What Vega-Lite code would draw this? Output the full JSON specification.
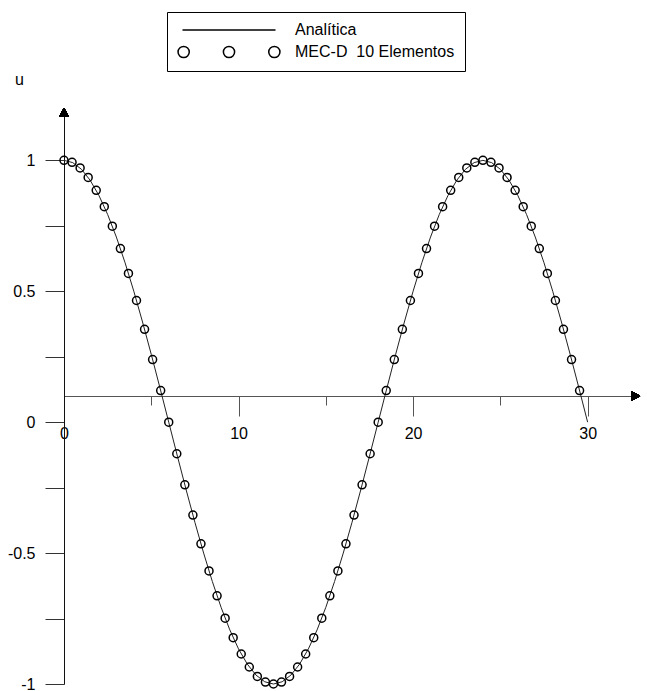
{
  "$schema": "https://vega.github.io/schema/vega-lite/v6.json",
  "width": 576,
  "height": 576,
  "autosize": {"type": "none"},
  "padding": {"left": 64, "top": 108, "right": 7, "bottom": 7},
  "background": "white",
  "config": {"view": {"stroke": null}, "font": "Liberation Sans"},
  "data": {
    "values": [
      {"serie": "Analítica", "t": 0, "u": 1},
      {"serie": "Analítica", "t": 0.5, "u": 0.991445},
      {"serie": "Analítica", "t": 1, "u": 0.965926},
      {"serie": "Analítica", "t": 1.5, "u": 0.92388},
      {"serie": "Analítica", "t": 2, "u": 0.866025},
      {"serie": "Analítica", "t": 2.5, "u": 0.793353},
      {"serie": "Analítica", "t": 3, "u": 0.707107},
      {"serie": "Analítica", "t": 3.5, "u": 0.608761},
      {"serie": "Analítica", "t": 4, "u": 0.5},
      {"serie": "Analítica", "t": 4.5, "u": 0.382683},
      {"serie": "Analítica", "t": 5, "u": 0.258819},
      {"serie": "Analítica", "t": 5.5, "u": 0.130526},
      {"serie": "Analítica", "t": 6, "u": 0},
      {"serie": "Analítica", "t": 6.5, "u": -0.130526},
      {"serie": "Analítica", "t": 7, "u": -0.258819},
      {"serie": "Analítica", "t": 7.5, "u": -0.382683},
      {"serie": "Analítica", "t": 8, "u": -0.5},
      {"serie": "Analítica", "t": 8.5, "u": -0.608761},
      {"serie": "Analítica", "t": 9, "u": -0.707107},
      {"serie": "Analítica", "t": 9.5, "u": -0.793353},
      {"serie": "Analítica", "t": 10, "u": -0.866025},
      {"serie": "Analítica", "t": 10.5, "u": -0.92388},
      {"serie": "Analítica", "t": 11, "u": -0.965926},
      {"serie": "Analítica", "t": 11.5, "u": -0.991445},
      {"serie": "Analítica", "t": 12, "u": -1},
      {"serie": "Analítica", "t": 12.5, "u": -0.991445},
      {"serie": "Analítica", "t": 13, "u": -0.965926},
      {"serie": "Analítica", "t": 13.5, "u": -0.92388},
      {"serie": "Analítica", "t": 14, "u": -0.866025},
      {"serie": "Analítica", "t": 14.5, "u": -0.793353},
      {"serie": "Analítica", "t": 15, "u": -0.707107},
      {"serie": "Analítica", "t": 15.5, "u": -0.608761},
      {"serie": "Analítica", "t": 16, "u": -0.5},
      {"serie": "Analítica", "t": 16.5, "u": -0.382683},
      {"serie": "Analítica", "t": 17, "u": -0.258819},
      {"serie": "Analítica", "t": 17.5, "u": -0.130526},
      {"serie": "Analítica", "t": 18, "u": 0},
      {"serie": "Analítica", "t": 18.5, "u": 0.130526},
      {"serie": "Analítica", "t": 19, "u": 0.258819},
      {"serie": "Analítica", "t": 19.5, "u": 0.382683},
      {"serie": "Analítica", "t": 20, "u": 0.5},
      {"serie": "Analítica", "t": 20.5, "u": 0.608761},
      {"serie": "Analítica", "t": 21, "u": 0.707107},
      {"serie": "Analítica", "t": 21.5, "u": 0.793353},
      {"serie": "Analítica", "t": 22, "u": 0.866025},
      {"serie": "Analítica", "t": 22.5, "u": 0.92388},
      {"serie": "Analítica", "t": 23, "u": 0.965926},
      {"serie": "Analítica", "t": 23.5, "u": 0.991445},
      {"serie": "Analítica", "t": 24, "u": 1},
      {"serie": "Analítica", "t": 24.5, "u": 0.991445},
      {"serie": "Analítica", "t": 25, "u": 0.965926},
      {"serie": "Analítica", "t": 25.5, "u": 0.92388},
      {"serie": "Analítica", "t": 26, "u": 0.866025},
      {"serie": "Analítica", "t": 26.5, "u": 0.793353},
      {"serie": "Analítica", "t": 27, "u": 0.707107},
      {"serie": "Analítica", "t": 27.5, "u": 0.608761},
      {"serie": "Analítica", "t": 28, "u": 0.5},
      {"serie": "Analítica", "t": 28.5, "u": 0.382683},
      {"serie": "Analítica", "t": 29, "u": 0.258819},
      {"serie": "Analítica", "t": 29.5, "u": 0.130526},
      {"serie": "Analítica", "t": 30, "u": 0},
      {"serie": "MEC-D  10 Elementos", "t": 0, "u": 1},
      {"serie": "MEC-D  10 Elementos", "t": 0.4615, "u": 0.992709},
      {"serie": "MEC-D  10 Elementos", "t": 0.9231, "u": 0.970942},
      {"serie": "MEC-D  10 Elementos", "t": 1.3846, "u": 0.935016},
      {"serie": "MEC-D  10 Elementos", "t": 1.8462, "u": 0.885456},
      {"serie": "MEC-D  10 Elementos", "t": 2.3077, "u": 0.822984},
      {"serie": "MEC-D  10 Elementos", "t": 2.7692, "u": 0.748511},
      {"serie": "MEC-D  10 Elementos", "t": 3.2308, "u": 0.663123},
      {"serie": "MEC-D  10 Elementos", "t": 3.6923, "u": 0.568065},
      {"serie": "MEC-D  10 Elementos", "t": 4.1538, "u": 0.464723},
      {"serie": "MEC-D  10 Elementos", "t": 4.6154, "u": 0.354605},
      {"serie": "MEC-D  10 Elementos", "t": 5.0769, "u": 0.239316},
      {"serie": "MEC-D  10 Elementos", "t": 5.5385, "u": 0.120537},
      {"serie": "MEC-D  10 Elementos", "t": 6, "u": 0},
      {"serie": "MEC-D  10 Elementos", "t": 6.4615, "u": -0.120537},
      {"serie": "MEC-D  10 Elementos", "t": 6.9231, "u": -0.239316},
      {"serie": "MEC-D  10 Elementos", "t": 7.3846, "u": -0.354605},
      {"serie": "MEC-D  10 Elementos", "t": 7.8462, "u": -0.464723},
      {"serie": "MEC-D  10 Elementos", "t": 8.3077, "u": -0.568065},
      {"serie": "MEC-D  10 Elementos", "t": 8.7692, "u": -0.663123},
      {"serie": "MEC-D  10 Elementos", "t": 9.2308, "u": -0.748511},
      {"serie": "MEC-D  10 Elementos", "t": 9.6923, "u": -0.822984},
      {"serie": "MEC-D  10 Elementos", "t": 10.1538, "u": -0.885456},
      {"serie": "MEC-D  10 Elementos", "t": 10.6154, "u": -0.935016},
      {"serie": "MEC-D  10 Elementos", "t": 11.0769, "u": -0.970942},
      {"serie": "MEC-D  10 Elementos", "t": 11.5385, "u": -0.992709},
      {"serie": "MEC-D  10 Elementos", "t": 12, "u": -1},
      {"serie": "MEC-D  10 Elementos", "t": 12.4615, "u": -0.992709},
      {"serie": "MEC-D  10 Elementos", "t": 12.9231, "u": -0.970942},
      {"serie": "MEC-D  10 Elementos", "t": 13.3846, "u": -0.935016},
      {"serie": "MEC-D  10 Elementos", "t": 13.8462, "u": -0.885456},
      {"serie": "MEC-D  10 Elementos", "t": 14.3077, "u": -0.822984},
      {"serie": "MEC-D  10 Elementos", "t": 14.7692, "u": -0.748511},
      {"serie": "MEC-D  10 Elementos", "t": 15.2308, "u": -0.663123},
      {"serie": "MEC-D  10 Elementos", "t": 15.6923, "u": -0.568065},
      {"serie": "MEC-D  10 Elementos", "t": 16.1538, "u": -0.464723},
      {"serie": "MEC-D  10 Elementos", "t": 16.6154, "u": -0.354605},
      {"serie": "MEC-D  10 Elementos", "t": 17.0769, "u": -0.239316},
      {"serie": "MEC-D  10 Elementos", "t": 17.5385, "u": -0.120537},
      {"serie": "MEC-D  10 Elementos", "t": 18, "u": 0},
      {"serie": "MEC-D  10 Elementos", "t": 18.4615, "u": 0.120537},
      {"serie": "MEC-D  10 Elementos", "t": 18.9231, "u": 0.239316},
      {"serie": "MEC-D  10 Elementos", "t": 19.3846, "u": 0.354605},
      {"serie": "MEC-D  10 Elementos", "t": 19.8462, "u": 0.464723},
      {"serie": "MEC-D  10 Elementos", "t": 20.3077, "u": 0.568065},
      {"serie": "MEC-D  10 Elementos", "t": 20.7692, "u": 0.663123},
      {"serie": "MEC-D  10 Elementos", "t": 21.2308, "u": 0.748511},
      {"serie": "MEC-D  10 Elementos", "t": 21.6923, "u": 0.822984},
      {"serie": "MEC-D  10 Elementos", "t": 22.1538, "u": 0.885456},
      {"serie": "MEC-D  10 Elementos", "t": 22.6154, "u": 0.935016},
      {"serie": "MEC-D  10 Elementos", "t": 23.0769, "u": 0.970942},
      {"serie": "MEC-D  10 Elementos", "t": 23.5385, "u": 0.992709},
      {"serie": "MEC-D  10 Elementos", "t": 24, "u": 1},
      {"serie": "MEC-D  10 Elementos", "t": 24.4615, "u": 0.992709},
      {"serie": "MEC-D  10 Elementos", "t": 24.9231, "u": 0.970942},
      {"serie": "MEC-D  10 Elementos", "t": 25.3846, "u": 0.935016},
      {"serie": "MEC-D  10 Elementos", "t": 25.8462, "u": 0.885456},
      {"serie": "MEC-D  10 Elementos", "t": 26.3077, "u": 0.822984},
      {"serie": "MEC-D  10 Elementos", "t": 26.7692, "u": 0.748511},
      {"serie": "MEC-D  10 Elementos", "t": 27.2308, "u": 0.663123},
      {"serie": "MEC-D  10 Elementos", "t": 27.6923, "u": 0.568065},
      {"serie": "MEC-D  10 Elementos", "t": 28.1538, "u": 0.464723},
      {"serie": "MEC-D  10 Elementos", "t": 28.6154, "u": 0.354605},
      {"serie": "MEC-D  10 Elementos", "t": 29.0769, "u": 0.239316},
      {"serie": "MEC-D  10 Elementos", "t": 29.5385, "u": 0.120537}
    ]
  },
  "layer": [
    {
      "transform": [{"filter": "datum.serie === 'Analítica'"}],
      "mark": {"type": "line", "color": "#222222", "strokeWidth": 1},
      "encoding": {
        "x": {
          "field": "t",
          "type": "quantitative",
          "scale": {"domain": [0, 33], "nice": false, "zero": false},
          "axis": {
            "title": null,
            "orient": "bottom",
            "offset": -288,
            "values": [0, 5, 10, 15, 20, 25, 30],
            "labelExpr": "datum.value % 10 === 0 ? toString(datum.value) : ''",
            "domainColor": "#555555",
            "domainWidth": 1,
            "tickColor": "#555555",
            "tickWidth": 1,
            "tickSize": {"condition": {"test": "datum.value % 10 === 0", "value": 20}, "value": 9},
            "labelPadding": 9,
            "labelFont": "Liberation Sans",
            "labelFontSize": 16,
            "labelColor": "black",
            "labelFlush": false,
            "labelOverlap": false,
            "grid": false
          }
        },
        "y": {
          "field": "u",
          "type": "quantitative",
          "scale": {"domain": [-1, 1.2], "nice": false, "zero": false},
          "axis": {
            "title": "u",
            "titleAngle": 0,
            "titleX": -45,
            "titleY": -29,
            "titleAlign": "center",
            "titleBaseline": "middle",
            "titleFont": "Liberation Sans",
            "titleFontSize": 16,
            "titleFontWeight": "normal",
            "titleColor": "black",
            "values": [-1, -0.75, -0.5, -0.25, 0, 0.25, 0.5, 0.75, 1],
            "labelExpr": "datum.value % 0.5 === 0 ? toString(datum.value) : ''",
            "domainColor": "#111111",
            "domainWidth": 1,
            "tickColor": "#333333",
            "tickWidth": 1,
            "tickSize": 19,
            "labelPadding": 10,
            "labelFont": "Liberation Sans",
            "labelFontSize": 16,
            "labelColor": "black",
            "labelFlush": false,
            "labelOverlap": false,
            "grid": false
          }
        }
      }
    },
    {
      "transform": [{"filter": "datum.serie !== 'Analítica'"}],
      "mark": {"type": "point", "shape": "circle", "filled": false, "stroke": "black", "strokeWidth": 1.5, "size": 64, "opacity": 1},
      "encoding": {
        "x": {"field": "t", "type": "quantitative"},
        "y": {"field": "u", "type": "quantitative"}
      }
    },
    {
      "description": "Legend source: one entry per series, with a line or three circles as its symbol.",
      "transform": [{"filter": "false"}],
      "mark": {"type": "point", "filled": false, "stroke": "black", "strokeWidth": 1.5, "opacity": 1},
      "encoding": {
        "x": {"field": "t", "type": "quantitative"},
        "y": {"field": "u", "type": "quantitative"},
        "shape": {
          "field": "serie",
          "type": "nominal",
          "scale": {
            "domain": ["Analítica", "MEC-D  10 Elementos"],
            "range": [
              "M-9.3,0L9.3,0",
              "M-7.95,0A1.12,1.12,0,1,1,-10.19,0A1.12,1.12,0,1,1,-7.95,0M1.12,0A1.12,1.12,0,1,1,-1.12,0A1.12,1.12,0,1,1,1.12,0M10.19,0A1.12,1.12,0,1,1,7.95,0A1.12,1.12,0,1,1,10.19,0"
            ]
          },
          "legend": {
            "orient": "none",
            "legendX": 103,
            "legendY": -96,
            "title": null,
            "padding": 10,
            "strokeColor": "black",
            "fillColor": "white",
            "symbolSize": 100,
            "symbolOffset": 44,
            "labelOffset": 58,
            "rowPadding": 5,
            "labelFont": "Liberation Sans",
            "labelFontSize": 16,
            "labelColor": "black",
            "labelLimit": 0,
            "labelExpr": "replace(datum.label, '  ', '\u00a0 ')",
            "symbolStrokeColor": "black",
            "symbolStrokeWidth": 1.5,
            "symbolFillColor": "transparent",
            "symbolOpacity": 1
          }
        }
      }
    },
    {
      "mark": {"type": "point", "shape": "triangle-up", "filled": true, "color": "black", "size": 100, "opacity": 1},
      "encoding": {"x": {"datum": 0}, "y": {"datum": 1.1835}}
    },
    {
      "mark": {"type": "point", "shape": "triangle-right", "filled": true, "color": "black", "size": 100, "opacity": 1},
      "encoding": {"x": {"datum": 32.75}, "y": {"datum": 0.1}}
    }
  ]
}
